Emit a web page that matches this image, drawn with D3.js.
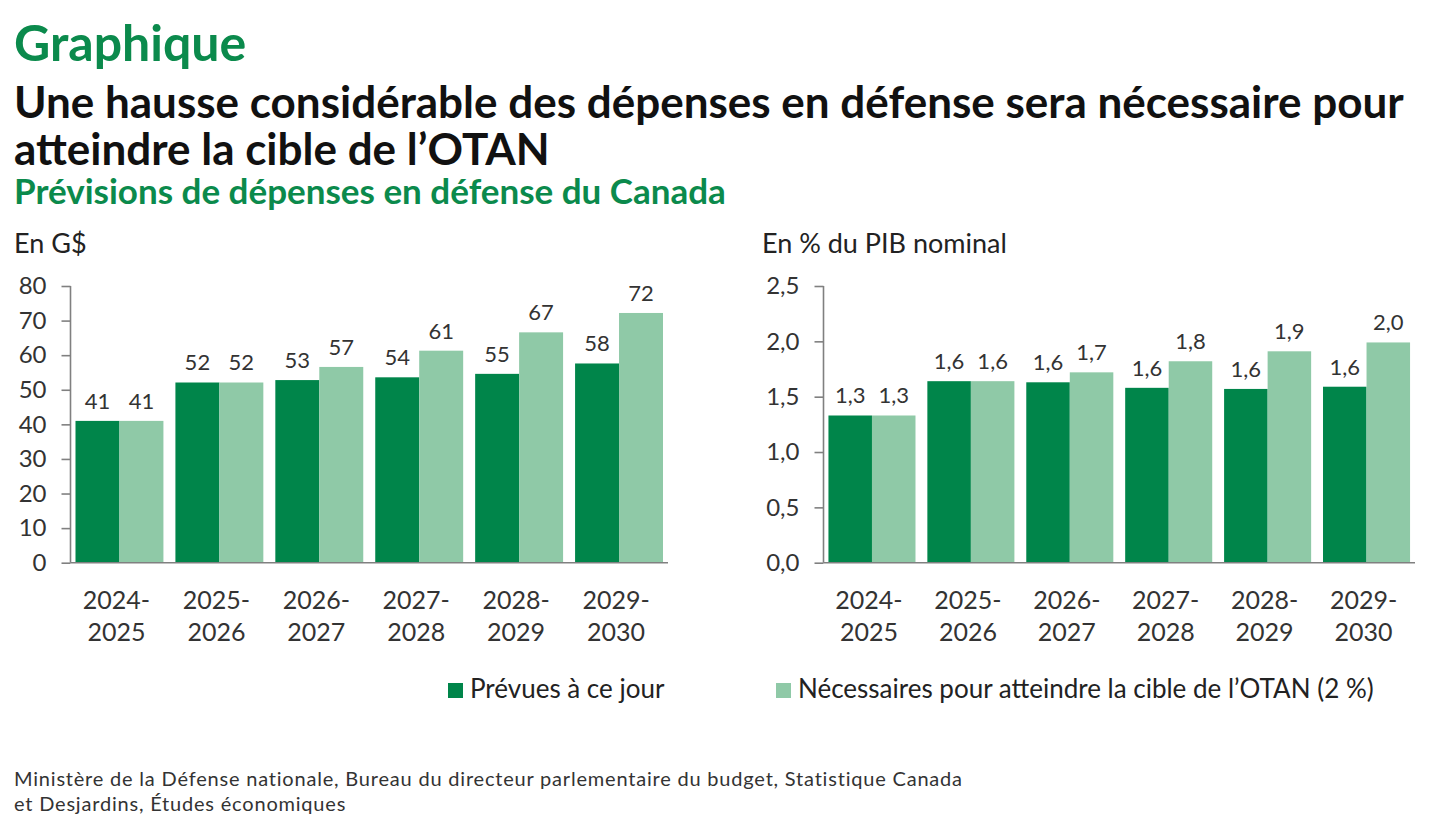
<!DOCTYPE html>
<html>
<head>
<meta charset="utf-8">
<script src="https://cdn.jsdelivr.net/npm/d3@7"></script>
<style>
  body { margin: 0; background: #fff; }
  svg { display: block; font-family: Lato, "Open Sans", sans-serif; }
</style>
</head>
<body>
<div id="chart"></div>
<script>
// data
var periods = ["2024-2025", "2025-2026", "2026-2027", "2027-2028", "2028-2029", "2029-2030"];
var seriesNames = ["Prévues à ce jour", "Nécessaires pour atteindre la cible de l’OTAN (2 %)"];
var bnPlanned  = [41.0, 52.1, 52.8, 53.6, 54.6, 57.6];
var bnRequired = [41.0, 52.1, 56.6, 61.3, 66.6, 72.2];
var pctPlanned  = [1.33, 1.64, 1.63, 1.58, 1.57, 1.59];
var pctRequired = [1.33, 1.64, 1.72, 1.82, 1.91, 1.99];
var bnTicks  = [0, 10, 20, 30, 40, 50, 60, 70, 80];
var pctTicks = [0, 0.5, 1.0, 1.5, 2.0, 2.5];
var sourceLines = [
    "Ministère de la Défense nationale, Bureau du directeur parlementaire du budget, Statistique Canada",
    "et Desjardins, Études économiques"
];

var colors = ["#00854a", "#8fc9a7"];
var green = "#0b8a4c";
var W = 1432, H = 832;

var fr = d3.formatLocale({decimal: ",", thousands: " ", grouping: [3], currency: ["", " $"]});

var svg = d3.select("#chart").append("svg")
    .attr("width", W)
    .attr("height", H);

// titles
svg.append("text").attr("x", 14).attr("y", 61)
    .attr("fill", green).attr("font-weight", 700).attr("font-size", 50)
    .text("Graphique");
svg.append("text").attr("x", 14).attr("y", 118)
    .attr("fill", "#111").attr("font-weight", 700).attr("font-size", 44)
    .text("Une hausse considérable des dépenses en défense sera nécessaire pour");
svg.append("text").attr("x", 14).attr("y", 165)
    .attr("fill", "#111").attr("font-weight", 700).attr("font-size", 44)
    .text("atteindre la cible de l’OTAN");
svg.append("text").attr("x", 14).attr("y", 204)
    .attr("fill", green).attr("font-weight", 700).attr("font-size", 35)
    .text("Prévisions de dépenses en défense du Canada");

function drawPanel(opts){
    var g = svg.append("g");

    g.append("text")
        .attr("x", opts.titleX).attr("y", 253)
        .attr("font-size", 27).attr("fill", "#222")
        .text(opts.unit);

    var x = d3.scaleBand()
        .domain(periods)
        .range([opts.x0, opts.x1])
        .paddingInner(0.12)
        .paddingOuter(0.05);
    var x1 = d3.scaleBand()
        .domain([0, 1])
        .range([0, x.bandwidth()]);
    var y = d3.scaleLinear()
        .domain([0, d3.max(opts.ticks)])
        .range([562.7, 286]);

    var rows = periods.map(function(p, i){
        return {period: p, values: [opts.a[i], opts.b[i]]};
    });

    var groups = g.selectAll("g.grp")
        .data(rows)
        .enter()
        .append("g")
        .attr("class", "grp")
        .attr("transform", function(d){ return "translate(" + x(d.period) + ",0)"; });

    groups.selectAll("rect")
        .data(function(d){ return d.values; })
        .enter()
        .append("rect")
        .attr("x", function(d, j){ return x1(j); })
        .attr("width", x1.bandwidth())
        .attr("y", function(d){ return y(d); })
        .attr("height", function(d){ return y(0) - y(d); })
        .attr("fill", function(d, j){ return colors[j]; });

    groups.selectAll("text.lbl")
        .data(function(d){ return d.values; })
        .enter()
        .append("text")
        .attr("class", "lbl")
        .attr("x", function(d, j){ return x1(j) + x1.bandwidth() / 2; })
        .attr("y", function(d){ return y(d) - 12; })
        .attr("text-anchor", "middle")
        .attr("font-size", 22)
        .attr("fill", "#333")
        .text(opts.fmt);

    // y axis
    var yAxis = d3.axisLeft(y)
        .tickValues(opts.ticks)
        .tickSize(9)
        .tickPadding(15)
        .tickFormat(opts.tickFmt);
    var ya = g.append("g")
        .attr("transform", "translate(" + opts.x0 + ",0)")
        .call(yAxis);
    ya.select(".domain").attr("stroke", "#808080").attr("stroke-width", 1.6)
        .attr("d", "M0," + y(d3.max(opts.ticks)) + "V" + y(0));
    ya.selectAll(".tick line").attr("stroke", "#808080").attr("stroke-width", 1.6);
    ya.selectAll(".tick text").attr("font-size", 24).attr("fill", "#333")
        .attr("font-family", "Lato, sans-serif");

    // baseline
    g.append("line")
        .attr("x1", opts.x0).attr("x2", opts.x1)
        .attr("y1", y(0)).attr("y2", y(0))
        .attr("stroke", "#808080").attr("stroke-width", 1.6);

    // category labels
    var cat = g.selectAll("text.cat")
        .data(periods)
        .enter()
        .append("text")
        .attr("class", "cat")
        .attr("text-anchor", "middle")
        .attr("font-size", 25)
        .attr("fill", "#333")
        .attr("transform", function(d){ return "translate(" + (x(d) + x.bandwidth() / 2 - 3) + ",0)"; });
    cat.append("tspan").attr("x", 0).attr("y", 609)
        .text(function(d){ return d.split("-")[0] + "-"; });
    cat.append("tspan").attr("x", 0).attr("y", 641)
        .text(function(d){ return d.split("-")[1]; });
}

drawPanel({
    unit: "En G$", titleX: 14,
    x0: 70.5, x1: 668,
    a: bnPlanned, b: bnRequired,
    ticks: bnTicks,
    fmt: fr.format(".0f"),
    tickFmt: fr.format(".0f")
});

drawPanel({
    unit: "En % du PIB nominal", titleX: 762,
    x0: 823.5, x1: 1415,
    a: pctPlanned, b: pctRequired,
    ticks: pctTicks,
    fmt: fr.format(".1f"),
    tickFmt: fr.format(".1f")
});

// legend
var legX = [448, 776];
var leg = svg.selectAll("g.leg")
    .data(seriesNames)
    .enter()
    .append("g")
    .attr("class", "leg")
    .attr("transform", function(d, i){ return "translate(" + legX[i] + ",683)"; });
leg.append("rect").attr("width", 15).attr("height", 15)
    .attr("fill", function(d, i){ return colors[i]; });
leg.append("text").attr("x", 22).attr("y", 15)
    .attr("font-size", 26).attr("fill", "#222")
    .text(function(d){ return d; });

// source
svg.selectAll("text.src")
    .data(sourceLines)
    .enter()
    .append("text")
    .attr("class", "src")
    .attr("x", 14)
    .attr("y", function(d, i){ return 786 + i * 25; })
    .attr("font-size", 20)
    .attr("letter-spacing", 0.8)
    .attr("fill", "#333")
    .text(function(d){ return d; });
</script>
</body>
</html>
